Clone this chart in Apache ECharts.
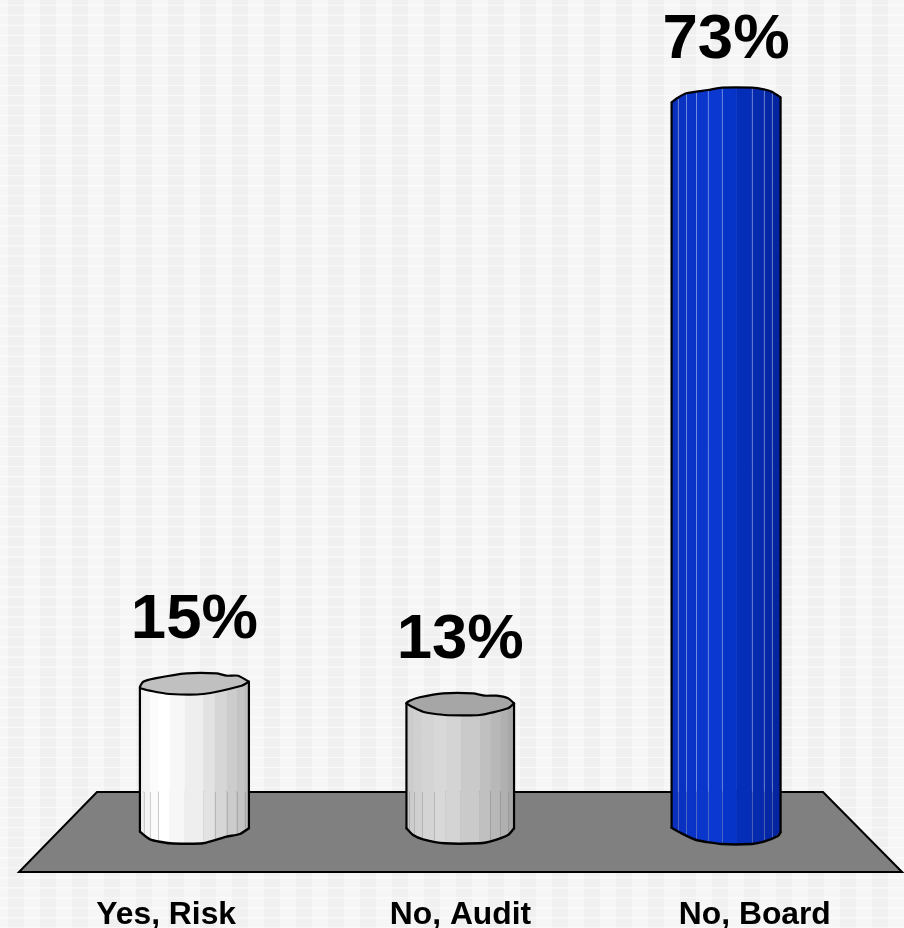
<!DOCTYPE html>
<html><head><meta charset="utf-8">
<style>html,body{margin:0;padding:0;background:#f5f5f5}#c{width:904px;height:928px}</style>
<script src="https://cdn.jsdelivr.net/npm/echarts@6/dist/echarts.min.js"></script>
</head><body><div id="c"></div>
<script>
const categories = ['Yes, Risk', 'No, Audit', 'No, Board'];
const percentValues = [15, 13, 73];

/* ---- style constants: how each cylinder is faceted, relative to its own centre ---- */
const HALF = [54.5, 53.8, 54.5];
const topBack = [
  [[-54.5,4.7],[-51.2,-1.3],[-39.5,-4.7],[-7.8,-9.7],[22.2,-9.7],[32.2,-7.3],[43.8,-7.3],[54.5,-1.3]],
  [[-53.8,0.3],[-50.5,-2.3],[-40.5,-5.7],[-17.2,-9.7],[12.8,-9.7],[24.5,-7.3],[36.2,-7.3],[47.8,-4.7],[53.8,0.3]],
  [[-54.5,-0.7],[-48.2,-5.3],[-39.8,-9.7],[-18.2,-13],[-4.2,-15.3],[25.8,-15.3],[37.8,-13.7],[45.8,-11.3],[54.5,-5.7]]
];
const topFront = [
  [[54.5,-1.3],[47.2,2.7],[8.8,11],[-24.5,11],[-42.8,8],[-54.5,4.7]],
  [[53.8,0.3],[47.8,5.3],[19.5,12],[-15.5,12],[-37.2,8.7],[-53.8,0.3]],
  null
];
const bottomEdge = [
  [[-54.5,-1.3],[-44.5,6.3],[-24.5,10.3],[8.8,10.3],[32.2,3.7],[45.5,1],[54.5,-4.7]],
  [[-53.8,-4.7],[-47.2,2],[-37.2,6.3],[-15.5,10.3],[19.5,10.3],[29.5,8.7],[47.8,2],[53.8,-4.7]],
  [[-54.5,-5.3],[-46.5,-0.7],[-29.8,7],[-4.2,11],[25.8,11],[37.8,8.7],[51.8,3],[54.5,-0.7]]
];
const facetEdges = [
  [-50.8,-44.5,-36.2,-24.5,-9.5,8.8,20.5,32.2,42.2,50.5],
  [-51,-46.2,-38.2,-26.2,-14.5,0.5,19.5,30.2,40.2,47.8],
  [-48.2,-39.8,-29.8,-18.2,-4.2,10.8,25.8,37.8,45.8]
];
const seamEdges = [
  [-50.8,-44.5,-36.2,20.5,32.2,42.2,50.5],
  [-51,-46.2,-38.2,-26.2,30.2,40.2,47.8],
  [-48.2,-39.8,-29.8,-18.2,-4.2,25.8,37.8,45.8]
];
const facetColors = [
  ['#f0f0f0','#f4f4f4','#fbfbfb','#ffffff','#f7f7f7','#eeeeee','#e2e2e2','#d6d6d6','#cccccc','#c4c4c4','#bcbcbc'],
  ['#c8c8c8','#cccccc','#d0d0d0','#d4d4d4','#d8d8d8','#d4d4d4','#cacaca','#c0c0c0','#b8b8b8','#b0b0b0','#a8a8a8'],
  ['#0a30bc','#0a32c2','#0a34c8','#0a36cc','#0a38d0','#0634c8','#052eb8','#052aae','#0527a6','#0525a0']
];
const capColors = ['#c0c0c0', '#a6a6a6', null];
const FLOOR_Y = 792, FRONT_VAL = -3.9, BACK_VAL = 4.1, BACK_INSET = 78;

function backgroundTile() {
  const cv = document.createElement('canvas');
  cv.width = 904; cv.height = 928;
  const g = cv.getContext('2d');
  g.fillStyle = '#f6f6f6'; g.fillRect(0, 0, 904, 928);
  g.fillStyle = '#f0f0f0';
  for (let x = 8; x < 904; x += 32) g.fillRect(x, 0, 16, 928);
  for (let i = 0; i < 93; i++) {
    const y = 4.6 + i * 10.03;
    g.fillStyle = 'rgba(255,255,255,0.6)';
    g.fillRect(0, y, 904, 1.2);
  }
  return cv;
}

function interp(list, x) {
  for (let i = 0; i < list.length - 1; i++) {
    const a = list[i], b = list[i + 1];
    if (x >= a[0] && x <= b[0]) return a[1] + (b[1] - a[1]) * (x - a[0]) / ((b[0] - a[0]) || 1);
  }
  return x < list[0][0] ? list[0][1] : list[list.length - 1][1];
}

function renderFloor(params, api) {
  const r = params.coordSys;
  const front = api.coord([0, FRONT_VAL])[1];
  const back = api.coord([0, BACK_VAL])[1];
  return {
    type: 'polygon',
    shape: { points: [[r.x + BACK_INSET, back], [r.x + r.width - BACK_INSET - 1, back], [r.x + r.width, front], [r.x, front]] },
    style: { fill: '#808080', stroke: '#000', lineWidth: 2, lineJoin: 'miter' }
  };
}

function renderCylinder(params, api) {
  const k = params.dataIndex;
  const t = api.coord([k, api.value(1)]);
  const b = api.coord([k, 0]);
  const cx = t[0], ty = t[1], by = b[1];
  const h = HALF[k];
  const kids = [];
  const edges = [-h].concat(facetEdges[k], [h]);
  for (let i = 0; i < edges.length - 1; i++) {
    const x0 = edges[i], x1 = edges[i + 1];
    kids.push({
      type: 'polygon',
      shape: { points: [
        [cx + x0, ty + interp(topBack[k], x0)], [cx + x1, ty + interp(topBack[k], x1)],
        [cx + x1, by + interp(bottomEdge[k], x1)], [cx + x0, by + interp(bottomEdge[k], x0)]
      ] },
      style: { fill: facetColors[k][i], stroke: facetColors[k][i], lineWidth: 0.4 }
    });
  }
  seamEdges[k].forEach(function (x) {
    const xp = Math.round(cx + x) + 0.5;
    if (k === 2) {
      kids.push({ type: 'line',
        shape: { x1: xp, y1: ty + interp(topBack[k], x) + 1, x2: xp, y2: FLOOR_Y },
        style: { stroke: 'rgba(225,232,250,0.42)', lineWidth: 1 } });
    }
    kids.push({ type: 'line',
      shape: { x1: xp, y1: FLOOR_Y, x2: xp, y2: by + interp(bottomEdge[k], x) },
      style: { stroke: k === 2 ? 'rgba(150,160,200,0.45)' : 'rgba(128,128,128,0.35)', lineWidth: 1 } });
  });
  if (topFront[k]) {
    kids.push({ type: 'polygon',
      shape: { points: topBack[k].concat(topFront[k].slice(0, -1)).map(function (p) { return [cx + p[0], ty + p[1]]; }), smooth: 0.2 },
      style: { fill: capColors[k], stroke: '#000', lineWidth: 2.2, lineJoin: 'round' } });
  } else {
    kids.push({ type: 'polyline',
      shape: { points: topBack[k].map(function (p) { return [cx + p[0], ty + p[1]]; }), smooth: 0.2 },
      style: { fill: 'none', stroke: '#000', lineWidth: 2.2, lineJoin: 'round' } });
  }
  kids.push({ type: 'polyline',
    shape: { points: bottomEdge[k].map(function (p) { return [cx + p[0], by + p[1]]; }), smooth: 0.2 },
    style: { fill: 'none', stroke: '#000', lineWidth: 2.4, lineJoin: 'round', lineCap: 'round' } });
  const tb = topBack[k], be = bottomEdge[k];
  [[tb[0], be[0]], [tb[tb.length - 1], be[be.length - 1]]].forEach(function (s) {
    kids.push({ type: 'line',
      shape: { x1: cx + s[0][0], y1: ty + s[0][1], x2: cx + s[1][0], y2: by + s[1][1] },
      style: { stroke: '#000', lineWidth: 2.2, lineCap: 'round' } });
  });
  kids.push({ type: 'text',
    style: { x: cx, y: ty - 63, text: api.value(1) + '%', fill: '#000', align: 'center', verticalAlign: 'middle',
      font: 'bold 63.5px "Liberation Sans", Arial, sans-serif' } });
  return { type: 'group', children: kids };
}

const chart = echarts.init(document.getElementById('c'), null, { renderer: 'canvas', width: 904, height: 928 });
chart.setOption({
  animation: false,
  backgroundColor: { image: backgroundTile(), repeat: 'no-repeat' },
  grid: [
    { left: 19, right: 2, top: 103, bottom: 56, outerBoundsMode: 'none' },
    { left: 61.5, right: 45, top: 103, bottom: 95, outerBoundsMode: 'none' }
  ],
  xAxis: [
    { type: 'category', gridIndex: 0, data: categories,
      axisLine: { show: false }, axisTick: { show: false }, splitLine: { show: false },
      axisLabel: { margin: 27, color: '#000', fontWeight: 'bold', fontSize: 31.8, fontFamily: '"Liberation Sans", Arial, sans-serif', interval: 0 } },
    { type: 'category', gridIndex: 1, data: categories, show: false }
  ],
  yAxis: [
    { type: 'value', gridIndex: 0, min: FRONT_VAL, max: 73, show: false, splitLine: { show: false } },
    { type: 'value', gridIndex: 1, min: 0, max: 73, show: false, splitLine: { show: false } }
  ],
  series: [
    { type: 'custom', xAxisIndex: 0, yAxisIndex: 0, z: 1, silent: true, data: [[0, 0]], renderItem: renderFloor, clip: false },
    { type: 'custom', xAxisIndex: 1, yAxisIndex: 1, z: 2, silent: true, clip: false,
      data: percentValues.map(function (v, i) { return [i, v]; }), renderItem: renderCylinder,
      encode: { x: 0, y: 1 } }
  ]
});
</script></body></html>
